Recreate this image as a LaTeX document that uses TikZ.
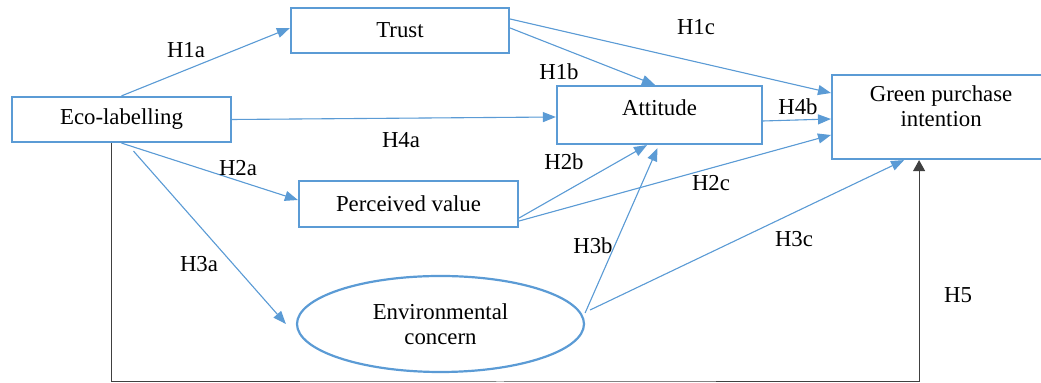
\documentclass[tikz,border=0pt]{standalone}
\usepackage{fontspec}
\setmainfont{Liberation Serif}
\usetikzlibrary{arrows.meta,shapes.geometric}
\definecolor{linkblue}{RGB}{91,155,213}
\begin{document}
\begin{tikzpicture}[x=0.5pt, y=-0.5pt, font=\fontsize{11.4}{12.5}\selectfont,
   box/.style={draw=linkblue, line width=1.1pt, inner sep=0pt},
   link/.style={draw=linkblue, line width=0.55pt, -{Triangle[length=6.5pt,width=5pt]}, fill=linkblue},
   hyp/.style={inner sep=0pt}]
\useasboundingbox (0,0) rectangle (1041,383);
\clip (0,0) rectangle (1041,383);

\node[box, minimum width=109.5pt, minimum height=22.5pt] (eco) at (121.5,119.5) {Eco-labelling};
\node[box, minimum width=109pt, minimum height=22.5pt] (trust) at (400,30.5) {Trust};
\node[box, minimum width=102.5pt, text height=15pt, text depth=14pt] (att) at (659.5,115) {Attitude};
\node[box, minimum width=109pt, text height=25.75pt, text depth=16.25pt, align=center, anchor=west] (gpi) at (831,117) {Green purchase\\intention};
\node[box, minimum width=109.5pt, minimum height=23pt] (pv) at (408.5,204) {Perceived value};
\node[box, ellipse, minimum width=143.5pt, minimum height=48pt, align=center] (env) at (440.5,324) {Environmental\\concern};
\coordinate (base) at (500,382);

\draw[link] (eco.north) -- ([yshift=1.25pt]trust.west);
\draw[link] ([yshift=5.75pt]trust.east) -- ([yshift=12pt]gpi.west);
\draw[link] ([yshift=1.25pt]trust.east) -- ([xshift=-2.25pt]att.north);
\draw[link] (eco.east) -- ([yshift=-1pt]att.west);
\draw[link] ([yshift=-3pt]att.east) -- ([yshift=-1pt]gpi.west);
\draw[link] (eco.south) -- ([yshift=2pt]pv.west);
\draw[link] ([xshift=6pt,yshift=-4pt]eco.south) -- ([xshift=-5pt]env.west);
\draw[link] ([yshift=-7pt]pv.east) -- ([xshift=-6.25pt]att.south);
\draw[link] ([yshift=-8.5pt]pv.east) -- ([yshift=-9pt]gpi.west);
\draw[link] ([yshift=5.5pt]env.east) -- ([xshift=-1pt,yshift=-1.5pt]att.south);
\draw[link] ([xshift=2.5pt,yshift=7pt]env.east) -- ([xshift=-18.5pt]gpi.south);
\draw[black!75, line width=0.5pt, -{Triangle[length=5.5pt,width=6pt]}] ([xshift=-5pt]eco.south) |- (base) -| ([xshift=-11pt]gpi.south);

\node[hyp] (h1a) at (186,50) {H1a};
\node[hyp] (h1b) at (559,72) {H1b};
\node[hyp] (h1c) at (696,27) {H1c};
\node[hyp] (h2a) at (238,168) {H2a};
\node[hyp] (h2b) at (564,162) {H2b};
\node[hyp] (h2c) at (711,183) {H2c};
\node[hyp] (h3a) at (199,264) {H3a};
\node[hyp] (h3b) at (593,246) {H3b};
\node[hyp] (h3c) at (794,239) {H3c};
\node[hyp] (h4a) at (401,140) {H4a};
\node[hyp] (h4b) at (798,107) {H4b};
\node[hyp] (h5) at (958,295) {H5};
\end{tikzpicture}
\end{document}
